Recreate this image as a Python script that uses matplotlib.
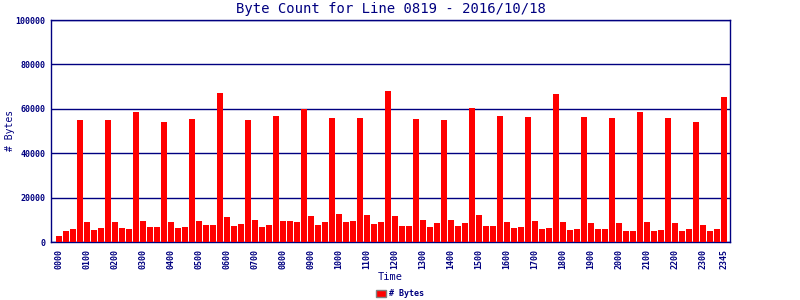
import matplotlib
matplotlib.use('Agg')
import matplotlib.pyplot as plt
import numpy as np

# 15-minute intervals for the day
times = ['%02d%02d' % (h, m) for h in range(24) for m in (0, 15, 30, 45)]

byte_counts = [
    2700, 5000, 5900, 55000, 9000, 5400, 6300, 55000,
    9000, 6300, 5900, 58700, 9500, 6800, 6800, 54200,
    9000, 6300, 6800, 55400, 9500, 7700, 7700, 67300,
    11300, 7200, 8100, 55000, 9900, 6800, 7700, 56800,
    9500, 9500, 9000, 59800, 11900, 7700, 9000, 55700,
    12800, 9000, 9500, 55700, 12300, 8100, 9000, 68000,
    11900, 7200, 7200, 55400, 9900, 6800, 8600, 55000,
    9900, 7200, 8600, 60400, 12300, 7200, 7200, 56800,
    9000, 6300, 6800, 56300, 9500, 5900, 6300, 66700,
    9000, 5400, 5900, 56300, 8600, 5900, 5900, 55900,
    8600, 5000, 5000, 58600, 9000, 5000, 5400, 55900,
    8600, 5000, 5900, 54100, 7700, 5000, 5900, 65300,
]

tick_labels = times[::4] + ['2345']
y_ticks = [0, 20000, 40000, 60000, 80000, 100000]

navy = '#000080'
mono = 'DejaVu Sans Mono'

fig = plt.figure(figsize=(8, 3), dpi=100, facecolor='white')
ax = fig.add_axes([0.06375, 0.19333, 0.84875, 0.74])

x = np.arange(len(byte_counts))
bars = ax.bar(x, byte_counts, width=0.86, color='#ff0000', zorder=3, label='# Bytes')

ax.set_xlim(-1.14, 95.86)
ax.set_ylim(0, 100000)

# horizontal grid only
ax.set_yticks(y_ticks)
ax.set_yticklabels([str(v) for v in y_ticks], family=mono, fontsize=6,
                   fontweight='bold', color=navy)
ax.yaxis.grid(True, color=navy, linewidth=1.0, zorder=1)
ax.set_axisbelow(True)

tick_pos = list(range(0, 96, 4)) + [95]
ax.set_xticks(tick_pos)
ax.set_xticklabels(tick_labels, rotation=90, family=mono, fontsize=6,
                   fontweight='bold', color=navy, va='top')
ax.tick_params(axis='both', length=0)
ax.tick_params(axis='x', pad=5)
ax.tick_params(axis='y', pad=4)

for s in ax.spines.values():
    s.set_color(navy)
    s.set_linewidth(1.0)

ax.set_title('Byte Count for Line 0819 - 2016/10/18', family=mono,
             fontsize=10, color=navy, pad=5)
ax.set_xlabel('Time', family=mono, fontsize=7.5, color=navy, labelpad=2)
fig.text(0.012, 0.565, '# Bytes', rotation=90, family=mono, fontsize=7,
         color=navy, ha='center', va='center')

leg = fig.legend(handles=[bars], labels=['# Bytes'], loc='lower center',
                 bbox_to_anchor=(0.5, -0.02), frameon=False,
                 prop={'family': mono, 'size': 6, 'weight': 'bold'},
                 handlelength=1.2, handleheight=0.9, handletextpad=0.4)
for t in leg.get_texts():
    t.set_color(navy)
for h in leg.legend_handles:
    h.set_edgecolor('#808080')
    h.set_linewidth(1.0)

fig.savefig('out.png', dpi=100)
